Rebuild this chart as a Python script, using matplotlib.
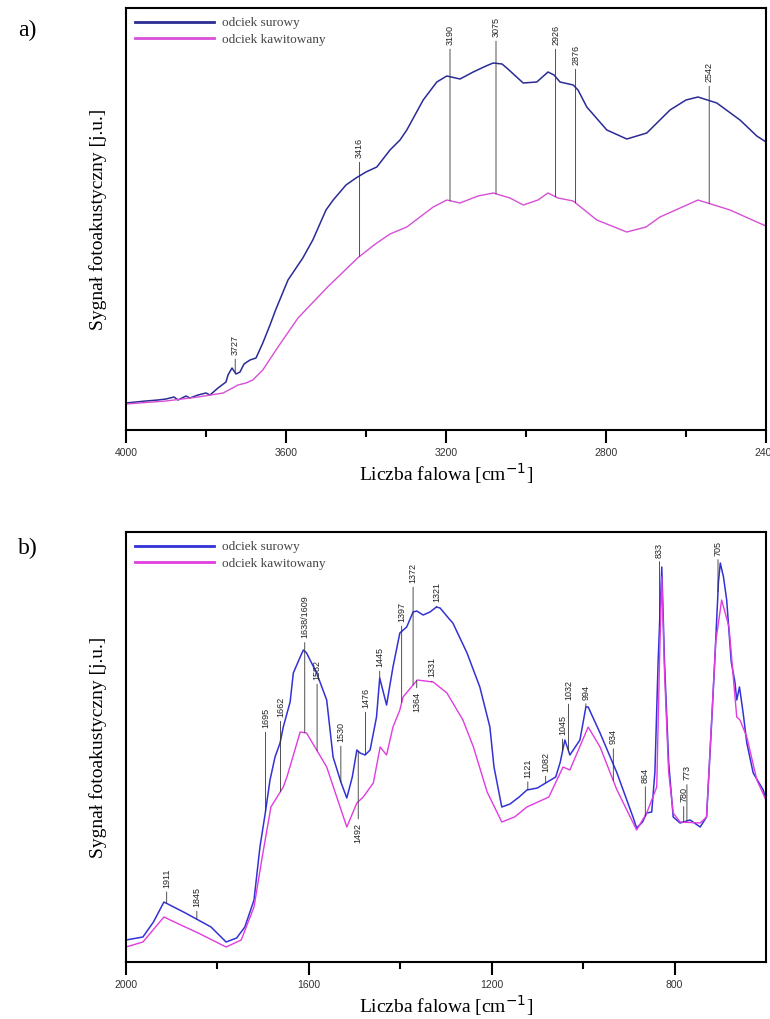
import numpy as np
import matplotlib
matplotlib.use('Agg')
import matplotlib.pyplot as plt

# ---- panel a) 4000-2400 cm-1 ----
wn_a_raw = [4000, 3950, 3920, 3900, 3880, 3870, 3850, 3840, 3820, 3800, 3790, 3770, 3750,
            3745, 3735, 3725, 3715, 3705, 3690, 3675, 3658, 3640, 3626, 3595, 3558, 3533,
            3500, 3482, 3450, 3425, 3400, 3373, 3340, 3315, 3298, 3257, 3223, 3198, 3165,
            3132, 3100, 3082, 3060, 3048, 3007, 2973, 2945, 2930, 2915, 2882, 2870, 2848,
            2798, 2748, 2698, 2640, 2600, 2570, 2523, 2465, 2423, 2400]
sig_a_raw = [27, 29, 30, 31, 33, 30, 34, 32, 35, 37, 35, 42, 48,
             55, 62, 56, 58, 66, 70, 72, 87, 105, 120, 150, 172, 190,
             220, 230, 245, 252, 258, 263, 280, 290, 300, 330, 348, 354, 351,
             358, 364, 367, 366, 362, 347, 348, 358, 355, 348, 345, 340, 323,
             300, 291, 297, 320, 330, 333, 327, 310, 294, 288]

wn_a_kaw = [4000, 3900, 3820, 3757, 3720, 3700, 3683, 3658, 3620, 3570, 3496, 3421, 3380,
            3340, 3298, 3232, 3198, 3165, 3120, 3082, 3040, 3007, 2970, 2945, 2920, 2882,
            2823, 2748, 2700, 2665, 2570, 2490, 2423, 2400]
sig_a_kaw = [26, 29, 33, 37, 45, 47, 50, 60, 83, 112, 143, 172, 185,
             196, 203, 223, 230, 227, 234, 237, 232, 225, 230, 237, 232, 229,
             210, 198, 203, 213, 230, 220, 208, 204]

peaks_a = [3727, 3416, 3190, 3075, 2926, 2876, 2542]
peaks_a_txt = ['3727', '3416', '3190', '3075', '2926', '2876', '2542']
peaks_a_curve = ['raw', 'kaw', 'kaw', 'kaw', 'kaw', 'kaw', 'kaw']
peaks_a_texty = [85, 282, 395, 403, 395, 375, 358]

# ---- panel b) 2000-600 cm-1 ----
wn_b_raw = [2000, 1963, 1940, 1917, 1900, 1870, 1842, 1814, 1781, 1758, 1740, 1720, 1707,
            1695, 1685, 1674, 1663, 1656, 1641, 1634, 1619, 1612, 1605, 1583, 1561, 1547,
            1530, 1517, 1505, 1495, 1488, 1477, 1466, 1452, 1445, 1430, 1416, 1401, 1386,
            1372, 1364, 1350, 1335, 1321, 1313, 1291, 1285, 1254, 1226, 1204, 1195, 1178,
            1160, 1140, 1123, 1100, 1082, 1060, 1050, 1040, 1029, 1007, 994, 989, 963,
            926, 891, 883, 870, 861, 850, 843, 836, 828, 822, 813, 803, 788, 766, 744,
            730, 720, 712, 704, 700, 693, 686, 676, 668, 664, 658, 650, 642, 628, 606, 600]
sig_b_raw = [22, 25, 40, 60, 56, 49, 42, 35, 20, 24, 35, 62, 115,
             150, 182, 205, 219, 235, 260, 289, 305, 312, 309, 289, 262, 205,
             180, 164, 185, 212, 209, 207, 212, 245, 284, 257, 295, 329, 335,
             350, 351, 347, 350, 355, 354, 342, 339, 309, 275, 235, 195, 155,
             158, 165, 172, 174, 179, 185, 200, 222, 207, 222, 255, 255, 229,
             189, 145, 134, 140, 149, 150, 190, 300, 395, 300, 200, 145, 139, 142, 135,
             145, 230, 302, 380, 399, 385, 362, 300, 280, 262, 275, 249, 219, 189, 172, 162]

wn_b_kaw = [2000, 1963, 1917, 1880, 1842, 1781, 1748, 1720, 1702, 1683, 1664, 1656, 1648,
            1619, 1605, 1583, 1561, 1539, 1517, 1495, 1481, 1459, 1444, 1430, 1416, 1401,
            1394, 1363, 1328, 1298, 1263, 1240, 1210, 1178, 1150, 1123, 1075, 1044, 1029,
            989, 963, 926, 883, 861, 839, 833, 828, 822, 813, 803, 788, 744, 730, 718,
            710, 697, 681, 664, 657, 642, 620, 600]
sig_b_kaw = [15, 20, 45, 37, 29, 15, 22, 55, 105, 155, 169, 175, 185,
             230, 229, 212, 195, 165, 135, 159, 165, 179, 215, 207, 235, 252,
             265, 282, 280, 269, 242, 215, 170, 140, 145, 155, 165, 195, 192,
             235, 215, 172, 132, 149, 175, 300, 385, 290, 190, 149, 140, 139, 145, 250,
             320, 362, 335, 245, 242, 225, 182, 162]

peaks_b = [1911, 1845, 1695, 1662, 1609, 1582, 1530, 1492, 1476, 1445, 1397, 1372, 1364,
           1331, 1321, 1121, 1082, 1045, 1032, 994, 934, 864, 833, 780, 773, 705]
peaks_b_txt = ['1911', '1845', '1695', '1662', '1638/1609', '1582', '1530', '1492', '1476',
               '1445', '1397', '1372', '1364', '1331', '1321', '1121', '1082', '1045',
               '1032', '994', '934', '864', '833', '780', '773', '705']
peaks_b_curve = ['raw', 'raw', 'raw', 'kaw', 'kaw', 'kaw', 'raw', 'raw', 'raw', 'raw', 'kaw',
                 'kaw', 'kaw', 'kaw', 'raw', 'raw', 'raw', 'raw', 'raw', 'raw', 'kaw', 'raw',
                 'raw', 'raw', 'raw', 'raw']
peaks_b_texty = [84, 65, 244, 255, 345, 292, 230, 129, 264, 305, 350, 389, 260,
                 295, 370, 194, 200, 237, 272, 270, 225, 187, 412, 167, 189, 414]

labels = ['odciek surowy', 'odciek kawitowany']

W, H = 770, 1019
fig = plt.figure(figsize=(W / 100, H / 100), dpi=100)

serif = ['Liberation Serif', 'DejaVu Serif']
sans = ['Liberation Sans', 'DejaVu Sans']


def panel(rect, wn_r, s_r, wn_k, s_k, xlim, ylim, peaks, txt, curve, texty,
          col_r, col_k, letter, letter_y):
    ax = fig.add_axes(rect)
    ax.plot(wn_r, s_r, color=col_r, lw=1.1, label=labels[0])
    ax.plot(wn_k, s_k, color=col_k, lw=1.0, label=labels[1])
    ax.set_xlim(*xlim)
    ax.set_ylim(*ylim)
    ax.set_yticks([])
    ax.set_xticks(np.arange(xlim[0], xlim[1] - 1, -400))
    ax.set_xticks(np.arange(xlim[0] - 200, xlim[1], -400), minor=True)
    ax.tick_params(axis='x', which='major', direction='out', length=9, width=1.5,
                   labelsize=7.5, labelcolor='#333333', pad=4)
    ax.tick_params(axis='x', which='minor', direction='out', length=5, width=1.5)
    for lab in ax.get_xticklabels():
        lab.set_family(sans)
    for sp in ax.spines.values():
        sp.set_linewidth(1.5)
    ax.set_xlabel('Liczba falowa [cm$^{-1}$]', family=serif, fontsize=14, labelpad=2)
    ax.set_ylabel('Sygnał fotoakustyczny [j.u.]', family=serif, fontsize=14, labelpad=14)

    wn_r_asc = np.array(wn_r)[::-1]
    s_r_asc = np.array(s_r)[::-1]
    wn_k_asc = np.array(wn_k)[::-1]
    s_k_asc = np.array(s_k)[::-1]
    for p, t, c, ty in zip(peaks, txt, curve, texty):
        if c == 'raw':
            y = np.interp(p, wn_r_asc, s_r_asc)
        else:
            y = np.interp(p, wn_k_asc, s_k_asc)
        ax.annotate(t, xy=(p, y), xytext=(p, ty), rotation=90, ha='center', va='center',
                    fontsize=6.5, family=sans, color='#222222',
                    arrowprops=dict(arrowstyle='-', lw=0.6, color='#333333',
                                    shrinkA=1, shrinkB=0))

    leg = ax.legend(loc='upper left', frameon=False, fontsize=9.5, handlelength=6,
                    handletextpad=0.6, borderaxespad=0.3, labelspacing=0.3,
                    prop={'family': serif, 'size': 9.5})
    for line in leg.get_lines():
        line.set_linewidth(2.0)
    for t in leg.get_texts():
        t.set_color('#444444')
    fig.text(18 / W, 1 - letter_y / H, letter, family=serif, fontsize=17,
             ha='left', va='center')
    return ax


panel([126 / W, 1 - 430 / H, 640 / W, 422 / H], wn_a_raw, sig_a_raw, wn_a_kaw, sig_a_kaw,
      (4000, 2400), (0, 422), peaks_a, peaks_a_txt, peaks_a_curve, peaks_a_texty,
      '#2b2b96', '#d64fd6', 'a)', 30)

panel([126 / W, 1 - 962 / H, 640 / W, 430 / H], wn_b_raw, sig_b_raw, wn_b_kaw, sig_b_kaw,
      (2000, 600), (0, 430), peaks_b, peaks_b_txt, peaks_b_curve, peaks_b_texty,
      '#3232d6', '#e03ce0', 'b)', 548)

fig.savefig('out.png', dpi=100)
